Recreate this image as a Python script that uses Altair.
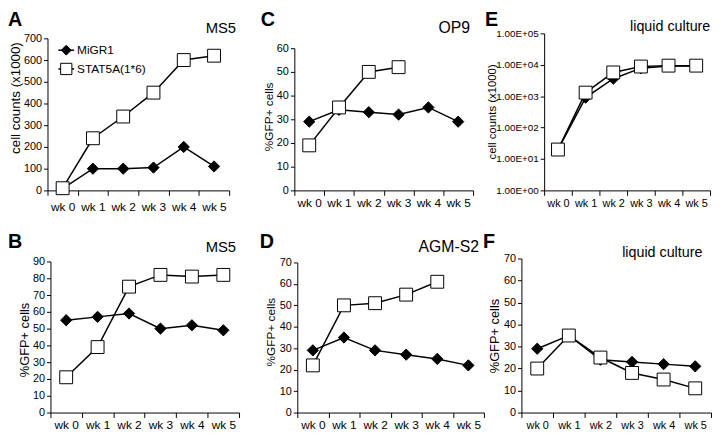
import altair as alt
import pandas as pd

WEEKS = ["wk 0", "wk 1", "wk 2", "wk 3", "wk 4", "wk 5"]
SERIES = ["MiGR1", "STAT5A(1*6)"]

# Panel A: MS5 cell counts (x1000)
A_MIGR1 = [8, 100, 100, 105, 200, 110]
A_STAT5A = [10, 240, 340, 450, 600, 620]
# Panel C: OP9 %GFP+
C_MIGR1 = [29, 34, 33, 32, 35, 29]
C_STAT5A = [19, 35, 50, 52]
# Panel E: liquid culture cell counts (log)
E_MIGR1 = [20, 900, 3600, 7800, 9200, 9200]
E_STAT5A = [20, 1300, 5700, 8800, 9400, 9400]
# Panel B: MS5 %GFP+
B_MIGR1 = [55, 57, 59, 50, 52, 49]
B_STAT5A = [21, 39, 75, 82, 81, 82]
# Panel D: AGM-S2 %GFP+
D_MIGR1 = [29, 35, 29, 27, 25, 22]
D_STAT5A = [22, 50, 51, 55, 61]
# Panel F: liquid culture %GFP+
F_MIGR1 = [29, 35, 24, 23, 22, 21]
F_STAT5A = [20, 35, 25, 18, 15, 11]

FONT = "Liberation Sans, Arial, Helvetica, sans-serif"
NARROW = "Liberation Sans Narrow, Arial Narrow, Liberation Sans, sans-serif"


def frame(m, s):
    rows = []
    for w, v in zip(WEEKS, m):
        rows.append({"wk": w, "series": SERIES[0], "v": v})
    for w, v in zip(WEEKS, s):
        rows.append({"wk": w, "series": SERIES[1], "v": v})
    return pd.DataFrame(rows)


def txt(text, x, y, size, weight="normal", align="left", baseline="alphabetic", font=FONT):
    return alt.Chart(pd.DataFrame({"t": [text]})).mark_text(
        font=font, fontSize=size, fontWeight=weight, align=align,
        baseline=baseline, color="black"
    ).encode(x=alt.value(x), y=alt.value(y), text="t:N")


def panel(df, width, height, xr, top, ydom, yticks, ytitle, tx, ty,
          letter, lxy, label, labxy, log=False, ylab_size=11, xlab_size=12,
          title_size=12, xlab_pad=2, legend=False):
    xscale = alt.Scale(type="band", domain=WEEKS, range=xr,
                       paddingInner=0, paddingOuter=0)
    common = dict(values=yticks, title=ytitle, titleX=tx, titleY=ty,
                  titleAlign="center", titleBaseline="middle",
                  titleFont=FONT, titleFontSize=title_size, titleFontWeight="normal",
                  titleColor="black", labelFont=NARROW, labelFontSize=ylab_size,
                  labelColor="black", tickSize=4, labelPadding=2,
                  domainColor="black", tickColor="black", grid=False,
                  labelOverlap=False, offset=-xr[0])
    if log:
        yscale = alt.Scale(type="log", domain=ydom, range=[height, top], nice=False)
        yaxis = alt.Axis(labelExpr="'1.00E+0' + round(log(datum.value) / LN10)", **common)
    else:
        yscale = alt.Scale(domain=ydom, range=[height, top], nice=False, zero=True)
        yaxis = alt.Axis(**common)
    xaxis = alt.Axis(title=None, tickBand="extent", labelAngle=0, tickSize=5,
                     labelPadding=xlab_pad, labelFont=FONT, labelFontSize=xlab_size,
                     labelColor="black", domainColor="black", tickColor="black",
                     grid=False)
    base = alt.Chart(df)
    x = alt.X("wk:N", scale=xscale, axis=xaxis, sort=WEEKS)
    y = alt.Y("v:Q", scale=yscale, axis=yaxis)
    lines = base.mark_line(color="black", strokeWidth=1.5).encode(
        x=x, y=y, detail="series:N")
    pts = base.mark_point(filled=True, opacity=1, stroke="black", strokeWidth=1).encode(
        x=x, y=y,
        shape=alt.Shape("series:N", scale=alt.Scale(domain=SERIES, range=["diamond", "square"]), legend=None),
        fill=alt.Fill("series:N", scale=alt.Scale(domain=SERIES, range=["black", "white"]), legend=None),
        size=alt.Size("series:N", scale=alt.Scale(domain=SERIES, range=[130, 170]), legend=None),
    )
    layers = [lines, pts,
              txt(letter, lxy[0], lxy[1], 20, weight="bold", baseline="top"),
              txt(label, labxy[0], labxy[1], labxy[2], align=labxy[3])]
    if legend:
        for i, (name, shp, fil) in enumerate([(SERIES[0], "diamond", "black"),
                                                (SERIES[1], "square", "white")]):
            yy = 17 + i * 19
            layers.append(alt.Chart(pd.DataFrame({"a": [0]})).mark_rule(
                color="black", strokeWidth=1.5).encode(
                x=alt.value(11), x2=alt.value(27), y=alt.value(yy)))
            layers.append(alt.Chart(pd.DataFrame({"a": [0]})).mark_point(
                filled=True, opacity=1, stroke="black", strokeWidth=1,
                size=100 if shp == "diamond" else 130, shape=shp, fill=fil).encode(
                x=alt.value(19), y=alt.value(yy)))
            layers.append(txt(name, 30, yy, 12, baseline="middle"))
    return alt.layer(*layers).properties(width=width, height=height)


H1, H2 = 159, 156
W1, W2, W3 = 194, 203, 194

pA = panel(frame(A_MIGR1, A_STAT5A), W1, H1, [0, 184], 5, [0, 700],
           list(range(0, 701, 100)), "cell counts (x1000)", -32, 65,
           "A", (-40, -23), "MS5", (191, 0, 15, "right"), legend=True,
           title_size=13.5, xlab_pad=6)
pC = panel(frame(C_MIGR1, C_STAT5A), W2, H1, [11, 192], 15, [0, 60],
           list(range(0, 61, 10)), "%GFP+ cells", -26, 84,
           "C", (-23, -23), "OP9", (157, 0, 16, "left"), title_size=12)
pE = panel(frame(E_MIGR1, E_STAT5A), W3, H1, [25, 193], 0, [1, 100000],
           [1, 10, 100, 1000, 10000, 100000], "cell counts (x1000)", -52, 79,
           "E", (-35, -23), "liquid culture", (112, -2, 14.5, "left"),
           log=True, ylab_size=10, xlab_size=11, title_size=11.5)
pB = panel(frame(B_MIGR1, B_STAT5A), W1, H2, [3, 194], 3, [0, 90],
           list(range(0, 91, 10)), "%GFP+ cells", -26, 82,
           "B", (-40, -27), "MS5", (191, -7, 15, "right"), title_size=13)
pD = panel(frame(D_MIGR1, D_STAT5A), W2, H2, [14, 203], 4, [0, 70],
           list(range(0, 71, 10)), "%GFP+ cells", -27, 74,
           "D", (-24, -27), "AGM-S2", (198, -7, 16, "right"), title_size=12)
pF = panel(frame(F_MIGR1, F_STAT5A), W3, H2, [2, 194], 0, [0, 70],
           list(range(0, 71, 10)), "%GFP+ cells", -27, 78,
           "F", (-37, -27), "liquid culture", (104, -2, 14.5, "left"),
           xlab_size=11, title_size=13)

chart = alt.concat(pA, pC, pE, pB, pD, pF, columns=3,
                   spacing={"row": 69, "column": 36},
                   bounds="flush", align="all").configure_view(
    stroke=None).properties(
    padding={"left": 0, "top": 0, "right": 0, "bottom": 0},
    background="white")

chart.save("out.html", embed_options={"renderer": "svg", "actions": False})
